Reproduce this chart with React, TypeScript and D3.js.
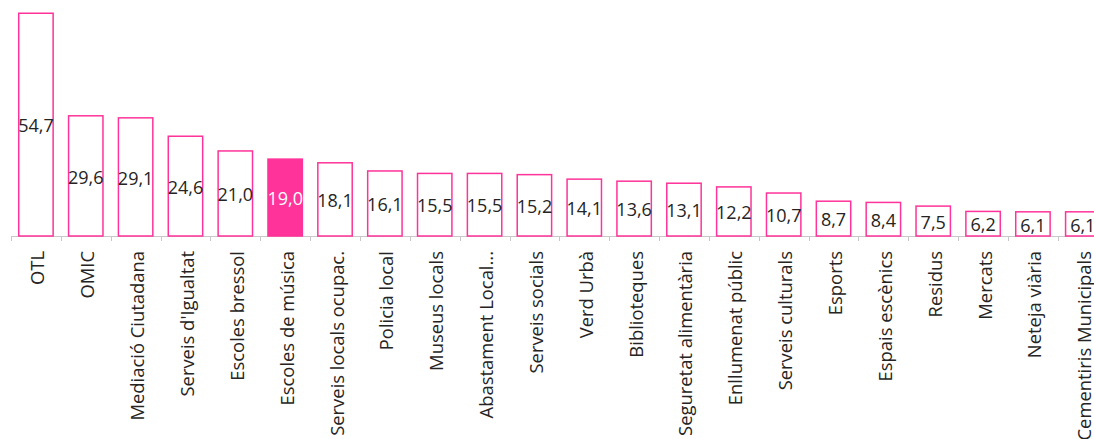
import React from "react";
import * as d3 from "d3";

const categories: string[] = [
  "OTL",
  "OMIC",
  "Mediació Ciutadana",
  "Serveis d'Igualtat",
  "Escoles bressol",
  "Escoles de música",
  "Serveis locals ocupac.",
  "Policia local",
  "Museus locals",
  "Abastament Local...",
  "Serveis socials",
  "Verd Urbà",
  "Biblioteques",
  "Seguretat alimentària",
  "Enllumenat públic",
  "Serveis culturals",
  "Esports",
  "Espais escènics",
  "Residus",
  "Mercats",
  "Neteja viària",
  "Cementiris Municipals",
];

const values: number[] = [
  54.7, 29.6, 29.1, 24.6, 21.0, 19.0, 18.1, 16.1, 15.5, 15.5, 15.2, 14.1, 13.6,
  13.1, 12.2, 10.7, 8.7, 8.4, 7.5, 6.2, 6.1, 6.1,
];

const highlighted: string[] = ["Escoles de música"];

const W = 1094;
const H = 439;
const PINK = "#ff3399";
const FONT = "'Open Sans', 'Noto Sans', sans-serif";

export default function App() {
  const x0 = 11;
  const step = 49.85;
  const x = d3
    .scaleBand<string>()
    .domain(categories)
    .range([x0, x0 + step * categories.length])
    .paddingInner(0.28)
    .paddingOuter(0.14);
  const baseY = 236;
  const y = d3.scaleLinear().domain([0, 57.76]).range([baseY, 0]);
  const fmt = (v: number) => v.toFixed(1).replace(".", ",");
  const s = x.step();
  const off = s * 0.14;

  return (
    <svg
      width={W}
      height={H}
      style={{ position: "absolute", left: 0, top: 0, background: "#fff" }}
      fontFamily={FONT}
    >
      <line x1={x0} x2={W} y1={baseY + 0.5} y2={baseY + 0.5} stroke="#c8c8c8" strokeWidth={1} />
      {categories.map((c, i) => {
        const tx = Math.round((x(c) as number) - off) + 0.5;
        return (
          <line key={"t" + i} x1={tx} x2={tx} y1={baseY} y2={baseY + 5} stroke="#c8c8c8" strokeWidth={1} />
        );
      })}
      {categories.map((c, i) => {
        const bx = x(c) as number;
        const bw = x.bandwidth();
        const v = values[i];
        const top = y(v);
        const hl = highlighted.includes(c);
        return (
          <g key={"b" + i}>
            <rect
              x={bx + 0.75}
              y={top + 0.75}
              width={bw - 1.5}
              height={baseY - top - 0.75}
              fill={hl ? PINK : "#fff"}
              stroke={PINK}
              strokeWidth={1.5}
            />
            <text
              x={bx + bw / 2}
              y={(top + baseY) / 2 + 1}
              textAnchor="middle"
              dominantBaseline="central"
              fontSize={18}
              fill={hl ? "#fff" : "#252423"}
            >
              {fmt(v)}
            </text>
          </g>
        );
      })}
      {categories.map((c, i) => {
        const cx = (x(c) as number) + x.bandwidth() / 2;
        return (
          <text
            key={"l" + i}
            transform={`translate(${cx + 1},${251}) rotate(-90)`}
            textAnchor="end"
            dominantBaseline="central"
            fontSize={18.4}
            fill="#252423"
          >
            {c}
          </text>
        );
      })}
    </svg>
  );
}
